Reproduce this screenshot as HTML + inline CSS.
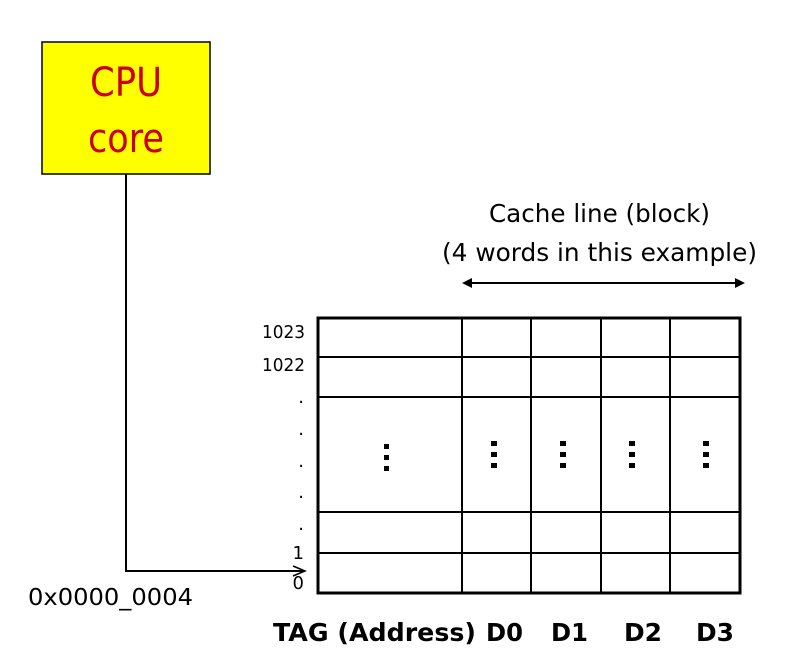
<!DOCTYPE html>
<html><head><style>html,body{margin:0;padding:0;background:#fff;}</style></head>
<body>
<svg width="805" height="663" viewBox="0 0 805 663" xmlns="http://www.w3.org/2000/svg" font-family="DejaVu Sans, Liberation Sans, sans-serif">
<rect x="42" y="42" width="168" height="132" fill="#ffff00" stroke="#000" stroke-width="1.5"/>
<text x="126" y="96" font-size="40" fill="#cc0000" text-anchor="middle" textLength="72" lengthAdjust="spacingAndGlyphs">CPU</text>
<text x="126" y="152" font-size="40" fill="#cc0000" text-anchor="middle" textLength="76" lengthAdjust="spacingAndGlyphs">core</text>
<polyline points="126,174 126,571 303,571" fill="none" stroke="#000" stroke-width="2"/>
<polyline points="293,566 305,571 293,576" fill="none" stroke="#000" stroke-width="1.5"/>
<text x="28" y="605" font-size="23" textLength="165" lengthAdjust="spacingAndGlyphs">0x0000_0004</text>
<text x="489" y="222" font-size="25" textLength="221" lengthAdjust="spacingAndGlyphs">Cache line (block)</text>
<text x="442" y="261" font-size="25" textLength="315" lengthAdjust="spacingAndGlyphs">(4 words in this example)</text>
<line x1="466" y1="283" x2="741" y2="283" stroke="#000" stroke-width="2"/>
<polygon points="462,283 472,278 472,288" fill="#000"/>
<polygon points="745,283 735,278 735,288" fill="#000"/>
<g stroke="#000" stroke-width="2">
<line x1="317" y1="357" x2="741" y2="357"/>
<line x1="317" y1="397" x2="741" y2="397"/>
<line x1="317" y1="512" x2="741" y2="512"/>
<line x1="317" y1="553" x2="741" y2="553"/>
<line x1="462" y1="317" x2="462" y2="594"/>
<line x1="531" y1="317" x2="531" y2="594"/>
<line x1="601" y1="317" x2="601" y2="594"/>
<line x1="670" y1="317" x2="670" y2="594"/>
</g>
<rect x="318" y="318" width="422" height="275" fill="none" stroke="#000" stroke-width="3"/>
<g fill="#000">
<rect x="384" y="444" width="5" height="5"/><rect x="384" y="455" width="5" height="5"/><rect x="384" y="466" width="5" height="5"/>
<rect x="491" y="441" width="6" height="5"/><rect x="491" y="452" width="6" height="5"/><rect x="491" y="463" width="6" height="5"/>
<rect x="560" y="441" width="6" height="5"/><rect x="560" y="452" width="6" height="5"/><rect x="560" y="463" width="6" height="5"/>
<rect x="629" y="441" width="6" height="5"/><rect x="629" y="452" width="6" height="5"/><rect x="629" y="463" width="6" height="5"/>
<rect x="703" y="441" width="6" height="5"/><rect x="703" y="452" width="6" height="5"/><rect x="703" y="463" width="6" height="5"/>
</g>
<g font-size="18" text-anchor="end">
<text x="305" y="338" textLength="43" lengthAdjust="spacingAndGlyphs">1023</text>
<text x="305" y="371" textLength="43" lengthAdjust="spacingAndGlyphs">1022</text>
<text x="304" y="403">.</text>
<text x="304" y="435">.</text>
<text x="304" y="467">.</text>
<text x="304" y="498">.</text>
<text x="304" y="530">.</text>
<text x="304" y="559">1</text>
<text x="304" y="589">0</text>
</g>
<g font-size="25" font-weight="bold">
<text x="273" y="641" textLength="203" lengthAdjust="spacingAndGlyphs">TAG (Address)</text>
<text x="486" y="641" textLength="37" lengthAdjust="spacingAndGlyphs">D0</text>
<text x="551" y="641" textLength="37" lengthAdjust="spacingAndGlyphs">D1</text>
<text x="624" y="641" textLength="38" lengthAdjust="spacingAndGlyphs">D2</text>
<text x="696" y="641" textLength="38" lengthAdjust="spacingAndGlyphs">D3</text>
</g>
</svg>
</body></html>
